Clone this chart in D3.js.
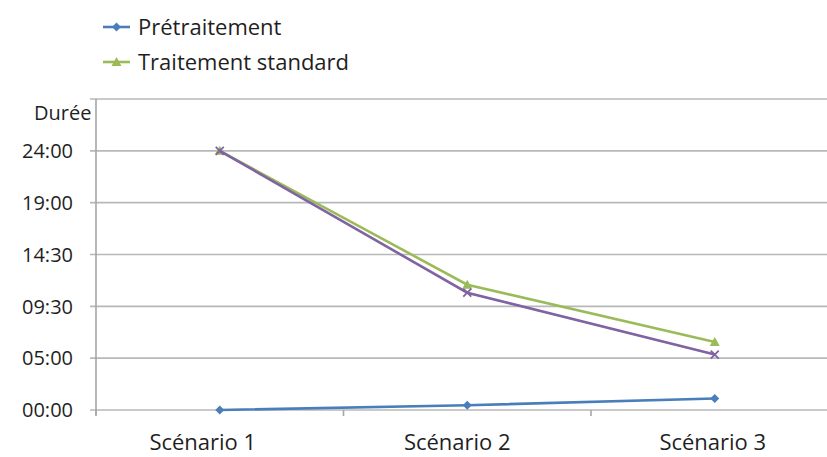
<!DOCTYPE html>
<html>
<head>
<meta charset="utf-8">
<script src="https://cdn.jsdelivr.net/npm/d3@7"></script>
<style>
  body { margin: 0; background: #fff; }
  text { font-family: "Open Sans", sans-serif; fill: #1f1f1f; }
</style>
</head>
<body>
<div id="chart"></div>
<script>
// donnees (durees en heures)
const scenarios = ["Scénario 1", "Scénario 2", "Scénario 3"];
const pretraitement = [0, 0.44, 1.06];
const traitementStandard = [24, 11.6, 6.3];
const troisiemeSerie = [24, 10.86, 5.13];
const tickValues = [0, 4.8, 9.6, 14.4, 19.2, 24, 28.8];
const tickLabels = ["00:00", "05:00", "09:30", "14:30", "19:00", "24:00", ""];

const width = 827;
const height = 457;
const margin = { top: 99, left: 96, bottom: 47 };

// decalage des libelles x (comme sur l'original)
const labelShift = [-17, -10, -2];

const series = [
  { name: "Prétraitement", values: pretraitement, color: "#4a7ebb", marker: "diamond" },
  { name: "Traitement standard", values: traitementStandard, color: "#9bbb59", marker: "triangle" },
  { name: "", values: troisiemeSerie, color: "#7f63a2", marker: "cross" },
];

const svg = d3
  .select("#chart")
  .append("svg")
  .attr("width", width)
  .attr("height", height);

const x = d3
  .scaleBand()
  .domain(scenarios)
  .range([margin.left, margin.left + 3 * 247.5]);

const y = d3
  .scaleLinear()
  .domain([0, 28.8])
  .range([height - margin.bottom, margin.top]);

// lignes de grille
svg
  .append("g")
  .selectAll("line")
  .data(tickValues)
  .join("line")
  .attr("x1", margin.left - 6)
  .attr("x2", width)
  .attr("y1", (d) => y(d))
  .attr("y2", (d) => y(d))
  .attr("stroke", "#b8b8b8")
  .attr("stroke-width", 1.6);

// axe vertical
svg
  .append("line")
  .attr("x1", margin.left)
  .attr("x2", margin.left)
  .attr("y1", y(28.8))
  .attr("y2", y(0) + 5)
  .attr("stroke", "#a6a6a6")
  .attr("stroke-width", 1.6);

// graduations axe x
const bounds = scenarios.map((d) => x(d)).concat([x.range()[1]]);
svg
  .append("g")
  .selectAll("line")
  .data(bounds)
  .join("line")
  .attr("x1", (d) => d)
  .attr("x2", (d) => d)
  .attr("y1", y(0))
  .attr("y2", y(0) + 6)
  .attr("stroke", "#a6a6a6")
  .attr("stroke-width", 1.6);

// libelles axe y
svg
  .append("g")
  .selectAll("text")
  .data(tickValues.map((v, i) => ({ v: v, label: tickLabels[i] })))
  .join("text")
  .attr("x", 73)
  .attr("y", (d) => y(d.v))
  .attr("dy", "0.36em")
  .attr("text-anchor", "end")
  .style("font-size", "20px")
  .text((d) => d.label);

// libelles axe x
svg
  .append("g")
  .selectAll("text")
  .data(scenarios)
  .join("text")
  .attr("x", (d, i) => x(d) + x.bandwidth() / 2 + labelShift[i])
  .attr("y", 450)
  .attr("text-anchor", "middle")
  .style("font-size", "22px")
  .text((d) => d);

// titre axe
svg
  .append("text")
  .attr("x", 34)
  .attr("y", 120)
  .style("font-size", "20px")
  .text("Durée");

const cx = (i) => x(scenarios[i]) + x.bandwidth() / 2;

function drawMarker(g, type, color) {
  if (type === "diamond") {
    g.append("path").attr("d", "M0,-4.5L4.5,0L0,4.5L-4.5,0Z").attr("fill", color);
  } else if (type === "triangle") {
    g.append("path").attr("d", "M0,-5L5,4L-5,4Z").attr("fill", color);
  } else {
    g.append("path")
      .attr("d", "M-4,-4L4,4M-4,4L4,-4")
      .attr("stroke", color)
      .attr("stroke-width", 1.8)
      .attr("fill", "none");
  }
}

const line = d3
  .line()
  .x((d, i) => cx(i))
  .y((d) => y(d));

series.forEach((s) => {
  svg
    .append("path")
    .datum(s.values)
    .attr("d", line)
    .attr("fill", "none")
    .attr("stroke", s.color)
    .attr("stroke-width", 2.6);

  s.values.forEach((v, i) => {
    const g = svg.append("g").attr("transform", "translate(" + cx(i) + "," + y(v) + ")");
    drawMarker(g, s.marker, s.color);
  });
});

// legende (deux premieres series seulement)
const legend = svg
  .append("g")
  .selectAll("g")
  .data(series.slice(0, 2))
  .join("g")
  .attr("transform", (d, i) => "translate(103," + (27 + i * 35) + ")");

legend
  .append("line")
  .attr("x1", 0)
  .attr("x2", 27)
  .attr("stroke", (d) => d.color)
  .attr("stroke-width", 2.6);

legend.each(function (d) {
  const g = d3.select(this).append("g").attr("transform", "translate(13.5,0)");
  drawMarker(g, d.marker, d.color);
});

legend
  .append("text")
  .attr("x", 35)
  .attr("dy", "0.36em")
  .style("font-size", "22px")
  .text((d) => d.name);
</script>
</body>
</html>
